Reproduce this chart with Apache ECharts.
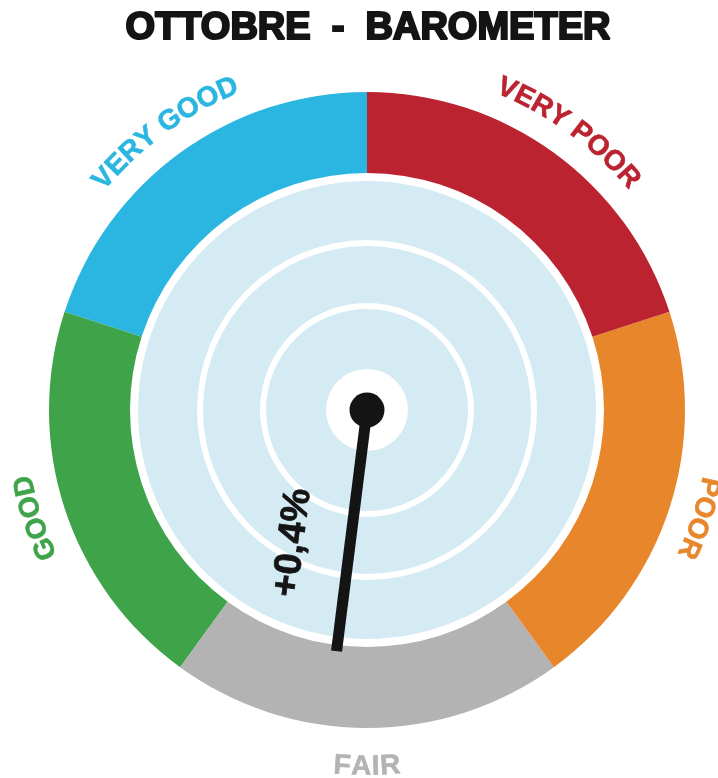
<!DOCTYPE html>
<html>
<head>
<meta charset="utf-8">
<script src="https://cdn.jsdelivr.net/npm/echarts@6/dist/echarts.min.js"></script>
<style>
  html, body { margin: 0; padding: 0; background: #fff; }
  #chart { width: 718px; height: 778px; }
</style>
</head>
<body>
<div id="chart"></div>
<script>
// data
const titleText  = 'OTTOBRE  -  BAROMETER';
const categories = ['VERY POOR', 'POOR', 'FAIR', 'GOOD', 'VERY GOOD'];
const bandEdges  = [-10, -6, -2, 2, 6, 10];
const bandColors = ['#BA232F', '#E8862C', '#B3B3B3', '#3FA449', '#2AB6E0'];
const currentValue = 0.4;
const valueLabel   = '+0,4%';

// layout
const cx = 367, cy = 410;
const R_OUT = 318, R_IN = 237;
const LABEL_R = 350;
const DISK = '#D4EBF4';
const INK = '#141414';
const FONT = "'Liberation Sans', Arial, sans-serif";

const min = bandEdges[0], max = bandEdges[bandEdges.length - 1];
const toAngle = v => (v - min) / (max - min) * Math.PI * 2; // clockwise from top

const colorStops = bandColors.map((c, i) => [(bandEdges[i + 1] - min) / (max - min), c]);

const measure = document.createElement('canvas').getContext('2d');

// place characters of a word along the circle around the center
function arcText(text, mid, r, size, color, spacing) {
  const font = 'bold ' + size + 'px ' + FONT;
  measure.font = font;
  const chars = [...text];
  const widths = chars.map(ch => measure.measureText(ch).width);
  const total = widths.reduce((a, b) => a + b, 0) + spacing * (chars.length - 1);
  const flip = Math.cos(mid) < -0.7; // bottom labels stay upright
  if (flip) r += 7;
  let acc = -total / 2;
  return chars.map((ch, i) => {
    const off = acc + widths[i] / 2;
    acc += widths[i] + spacing;
    const a = flip ? mid - off / r : mid + off / r;
    return {
      type: 'text', z: 100,
      x: cx + r * Math.sin(a),
      y: cy - r * Math.cos(a),
      rotation: flip ? -(a - Math.PI) : -a,
      style: {
        text: ch, font: font, fill: color, stroke: color, lineWidth: 0.6,
        align: 'center', verticalAlign: 'middle'
      },
      silent: true
    };
  });
}

const graphics = [];
graphics.push({
  type: 'text', x: 368, y: 29, z: 100,
  style: {
    text: titleText, font: '900 38px ' + FONT, fill: INK,
    stroke: INK, lineWidth: 2.2, align: 'center', verticalAlign: 'middle'
  }
});

categories.forEach((name, i) => {
  const mid = toAngle((bandEdges[i] + bandEdges[i + 1]) / 2);
  graphics.push(...arcText(name, mid, LABEL_R, 28, bandColors[i], 0.5));
});

// value label beside the needle, reading toward the center
const th = toAngle(currentValue);
const along = 141, side = 57;
const upX = Math.sin(th - Math.PI * 1.5), upY = -Math.cos(th - Math.PI * 1.5);
graphics.push({
  type: 'text', z: 100,
  x: cx + along * Math.sin(th) + side * upX,
  y: cy - along * Math.cos(th) + side * upY,
  rotation: Math.PI * 1.5 - th,
  style: {
    text: valueLabel, font: 'bold 38px ' + FONT, fill: INK,
    stroke: INK, lineWidth: 0.8, align: 'center', verticalAlign: 'middle'
  }
});

const ring = (r0, r1) => ({
  type: 'pie', center: [cx, cy], radius: [r0, r1], z: 1,
  silent: true, animation: false,
  label: { show: false }, labelLine: { show: false },
  emphasis: { disabled: true },
  itemStyle: { color: DISK },
  data: [{ value: 1 }]
});

const chart = echarts.init(document.getElementById('chart'), null, { renderer: 'canvas' });
chart.setOption({
  animation: false,
  backgroundColor: '#fff',
  series: [
    ring(41, 101),
    ring(107, 164),
    ring(170, 229),
    {
      type: 'gauge',
      z: 10,
      center: [cx, cy],
      radius: R_OUT,
      startAngle: 90,
      endAngle: -270,
      min: min,
      max: max,
      axisLine: { lineStyle: { width: R_OUT - R_IN, color: colorStops } },
      splitLine: { show: false },
      axisTick: { show: false },
      axisLabel: { show: false },
      progress: { show: false },
      pointer: { icon: 'rect', length: 243, width: 11, itemStyle: { color: INK } },
      anchor: { show: true, showAbove: true, size: 35, itemStyle: { color: INK } },
      title: { show: false },
      detail: { show: false },
      data: [{ value: currentValue }]
    }
  ],
  graphic: graphics
});
</script>
</body>
</html>
